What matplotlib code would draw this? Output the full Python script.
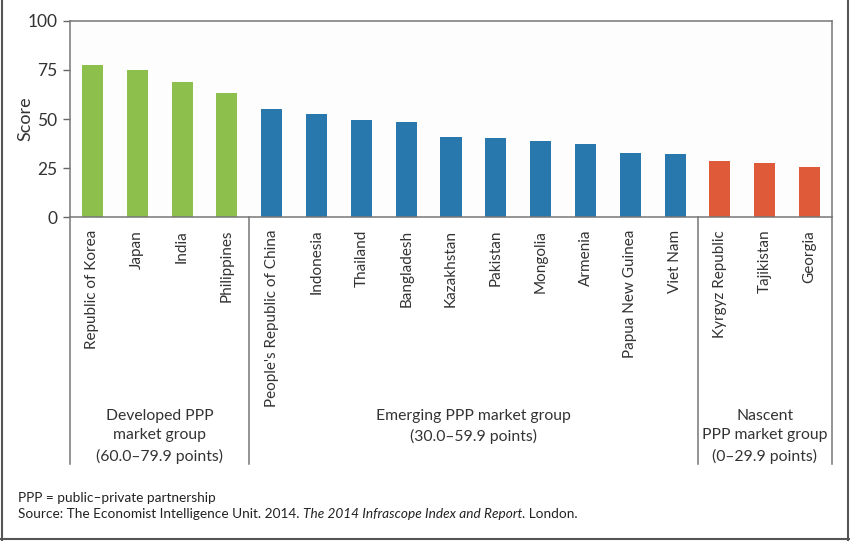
import matplotlib
matplotlib.use("Agg")
import matplotlib.pyplot as plt
from matplotlib.lines import Line2D
from matplotlib.transforms import blended_transform_factory

plt.rcParams['font.family'] = ['Lato', 'DejaVu Sans']

countries = ["Republic of Korea", "Japan", "India", "Philippines",
             "People's Republic of China", "Indonesia", "Thailand", "Bangladesh",
             "Kazakhstan", "Pakistan", "Mongolia", "Armenia", "Papua New Guinea",
             "Viet Nam", "Kyrgyz Republic", "Tajikistan", "Georgia"]
scores = [77.5, 74.8, 69.0, 63.3, 55.0, 52.6, 49.6, 48.3, 40.6, 40.3, 39.0,
          37.3, 32.8, 32.3, 28.6, 27.8, 25.5]
groups = ["Developed"] * 4 + ["Emerging"] * 10 + ["Nascent"] * 3
group_names = ["Developed", "Emerging", "Nascent"]
group_labels = ["Developed PPP\nmarket group\n(60.0–79.9 points)",
                "Emerging PPP market group\n(30.0–59.9 points)",
                "Nascent\nPPP market group\n(0–29.9 points)"]
group_colors = {"Developed": "#8cbf4c", "Emerging": "#2878ad", "Nascent": "#de5a38"}
yticks = [0, 25, 50, 75, 100]

W, H = 850, 541
fig = plt.figure(figsize=(W / 100, H / 100), dpi=100)
fig.patch.set_facecolor("white")
ax = fig.add_axes([70 / W, 1 - 217.3 / H, (832 - 70) / W, (217.3 - 20.7) / H])
ax.set_facecolor("#fdfdfd")

x = list(range(len(countries)))
colors = [group_colors[g] for g in groups]
ax.bar(x, scores, width=0.47, color=colors, zorder=2)

ax.set_xlim(-0.5, len(countries) - 0.5)
ax.set_ylim(0, 100)
ax.set_yticks(yticks)
ax.set_xticks(x)
ax.set_xticklabels(countries, rotation=90, fontsize=11, color="#333333")
ax.tick_params(axis="x", length=0, pad=9)
ax.tick_params(axis="y", length=5, width=1, color="#666666", labelsize=12.5,
               labelcolor="#333333", pad=4)
for s in ax.spines.values():
    s.set_color("#777777")
    s.set_linewidth(1.1)
ax.set_ylabel("Score", fontsize=13, color="#333333")
ax.yaxis.set_label_coords((33 - 70) / 762, 0.5)

# group dividers and labels
trans = blended_transform_factory(ax.transData, fig.transFigure)
y_top = 1 - 217.3 / H
y_bot = 1 - 464 / H
idx = 0
bounds = [-0.5]
for g in group_names:
    n = groups.count(g)
    idx += n
    bounds.append(idx - 0.5)
for b in bounds:
    fig.add_artist(Line2D([b, b], [y_bot, y_top], transform=trans,
                          color="#777777", lw=1.1))
for i, lab in enumerate(group_labels):
    cx = (bounds[i] + bounds[i + 1]) / 2
    fig.text(cx, 1 - 409 / H, lab, transform=trans, ha="center", va="top",
             fontsize=11.3, color="#333333", linespacing=1.5)

# footnotes
fs = 9.85
fig.text(18 / W, 1 - 498 / H, "PPP = public–private partnership", fontsize=fs,
         color="#222222", va="center", ha="left")
parts = [("Source: The Economist Intelligence Unit. 2014. ", "normal"),
         ("The 2014 Infrascope Index and Report", "italic"),
         (". London.", "normal")]
fig.canvas.draw()
renderer = fig.canvas.get_renderer()
xpos = 18
for txt, style in parts:
    t = fig.text(xpos / W, 1 - 514 / H, txt, fontsize=fs, style=style,
                 color="#222222", va="center", ha="left")
    bb = t.get_window_extent(renderer)
    xpos += bb.width

# outer frame (left, right, bottom)
fc = "#555555"
fig.add_artist(Line2D([1.5 / W, 1.5 / W], [0, 1], transform=fig.transFigure, color=fc, lw=1.5))
fig.add_artist(Line2D([847.5 / W, 847.5 / W], [0, 1], transform=fig.transFigure, color=fc, lw=1.5))
fig.add_artist(Line2D([0, 1], [1 - 539 / H, 1 - 539 / H], transform=fig.transFigure, color=fc, lw=1.5))

fig.savefig("out.png", dpi=100)
